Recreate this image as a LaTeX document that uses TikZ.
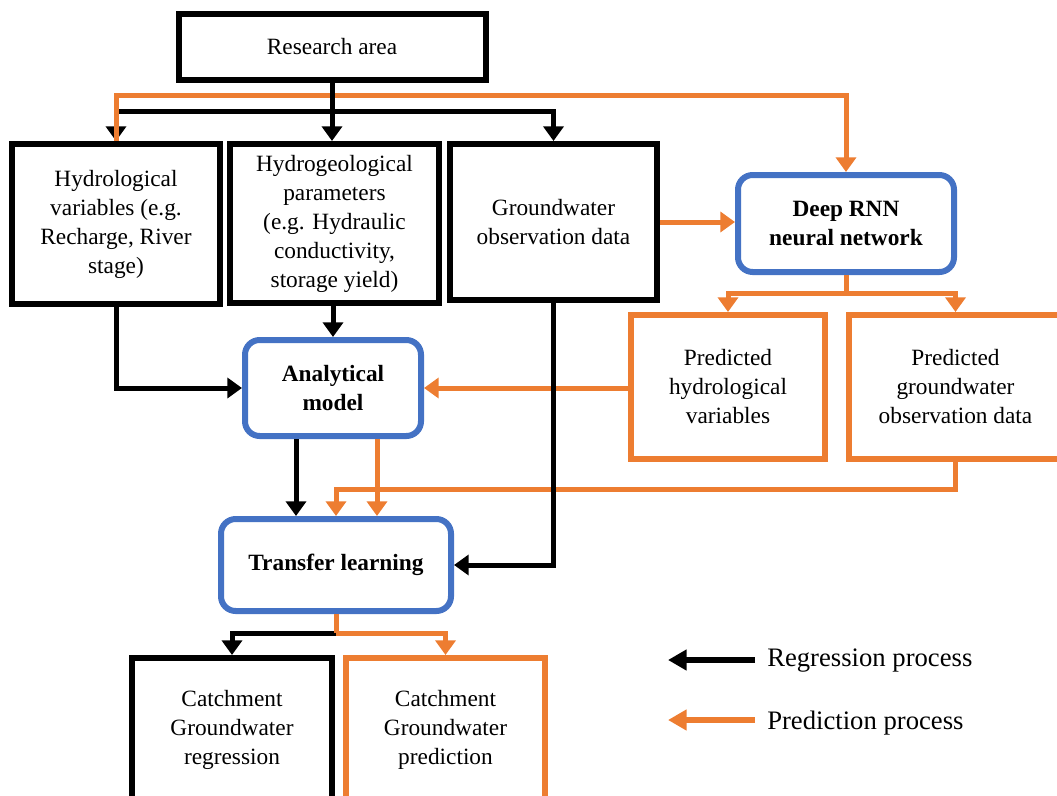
\documentclass[tikz,border=0pt]{standalone}
\usepackage{fontspec}
\setmainfont{Liberation Serif}
\usetikzlibrary{arrows.meta}
\definecolor{orangeline}{HTML}{ED7D31}
\definecolor{bluebox}{HTML}{4472C4}

\begin{document}
\begin{tikzpicture}[x=0.75pt,y=-0.75pt,
  every node/.style={font=\fontsize{17.5}{21.75}\selectfont, align=center, inner sep=0pt},
  plainbox/.style={draw=black, line width=4.5pt, fill=white},
  predbox/.style={draw=orangeline, line width=4.5pt, fill=white},
  modelbox/.style={draw=bluebox, line width=4.5pt, rounded corners=11pt, fill=white,
    font=\fontsize{17.5}{21.75}\selectfont\bfseries},
  arrowtip/.style={-{Triangle[width=15pt,length=11pt]}},
  blk/.style={draw=black, line width=3.75pt},
  org/.style={draw=orangeline, line width=3.75pt},
  legendtext/.style={anchor=west, font=\fontsize{20}{24}\selectfont},
]
\useasboundingbox (0,0) rectangle (1057,796);

% boxes
\node[plainbox, minimum width=230.25pt, minimum height=49.5pt] (RA) at (332,47) {Research area};
\node[plainbox, minimum width=156pt, minimum height=120pt] (HV) at (116,224)
  {Hydrological\\variables (e.g.\\Recharge, River\\stage)};
\node[plainbox, minimum width=156.75pt, minimum height=119.25pt] (HG) at (334.5,223.5)
  {Hydrogeological\\parameters\\(e.g. Hydraulic\\conductivity,\\storage yield)};
\node[plainbox, minimum width=155.25pt, minimum height=117pt] (GW) at (553.5,222)
  {Groundwater\\observation data};
\node[modelbox, minimum width=162pt, minimum height=72.75pt] (RNN) at (846,223.5)
  {Deep RNN\\neural network};
\node[predbox, minimum width=145.5pt, minimum height=108pt] (PH) at (728,387)
  {Predicted\\hydrological\\variables};
\node[predbox, minimum width=159.75pt, minimum height=108pt] (PG) at (955.5,387)
  {Predicted\\groundwater\\observation data};
\node[modelbox, minimum width=132pt, minimum height=72pt] (AM) at (333,388)
  {Analytical\\model};
\node[modelbox, minimum width=172.5pt, minimum height=69pt] (TL) at (336,565)
  {Transfer learning};
\node[plainbox, minimum width=150pt, minimum height=108pt] (CR) at (232,730)
  {Catchment\\Groundwater\\regression};
\node[predbox, minimum width=149.25pt, minimum height=108pt] (CP) at (445.5,730)
  {Catchment\\Groundwater\\prediction};

% rails and columns used by the connectors
\coordinate (r95) at (0,95);
\coordinate (r111) at (0,111);
\coordinate (r293) at (0,293);
\coordinate (r489) at (0,489);
\coordinate (r633) at (0,633);
\coordinate (c296) at (296,0);
\coordinate (c377) at (377,0);
\coordinate (c336) at (336,0);

% research area fan-out
\draw[blk, arrowtip] (RA.south |- r111) -| (HV.north);
\draw[blk, arrowtip] (RA.south |- r111) -| (GW.north);
\draw[org, arrowtip] (HV.north) -- (HV.north |- r95) -| (RNN.north);
\draw[blk, arrowtip] (RA.south) -- (RA.south |- HG.north);

% network outputs
\draw[org] (RNN.south) -- (RNN.south |- r293);
\draw[org, arrowtip] (RNN.south |- r293) -| (PH.north);
\draw[org, arrowtip] (RNN.south |- r293) -| (PG.north);
\draw[org, arrowtip] (GW.east) -- (GW.east -| RNN.west);

% analytical model inputs
\draw[blk, arrowtip] (HG.south -| AM.north) -- (AM.north);
\draw[blk, arrowtip] (HV.south) |- (AM.west);
\draw[org, arrowtip] (PH.west |- AM.east) -- (AM.east);

% transfer learning inputs
\draw[blk, arrowtip] (AM.south -| c296) -- (TL.north -| c296);
\draw[org, arrowtip] (AM.south -| c377) -- (TL.north -| c377);
\draw[org, arrowtip] (PG.south) |- (c336 |- r489) -- (TL.north -| c336);
\draw[blk, arrowtip] (GW.south) |- (TL.east);

% catchment outputs
\draw[blk, arrowtip] (TL.south |- r633) -| (CR.north);
\draw[org, arrowtip] (TL.south |- r633) -| (CP.north);
\draw[org] (TL.south) -- (TL.south |- r633);

% legend
\node[legendtext] (legR) at (767,661) {Regression process};
\node[legendtext] (legP) at (767,723) {Prediction process};
\coordinate (legRa) at (755,660);
\coordinate (legRb) at (668,660);
\coordinate (legPa) at (755,720);
\coordinate (legPb) at (668,720);
\draw[blk, line width=4.5pt, -{Triangle[width=15pt,length=14pt]}] (legRa) -- (legRb);
\draw[org, line width=4.5pt, -{Triangle[width=15pt,length=14pt]}] (legPa) -- (legPb);
\end{tikzpicture}
\end{document}
